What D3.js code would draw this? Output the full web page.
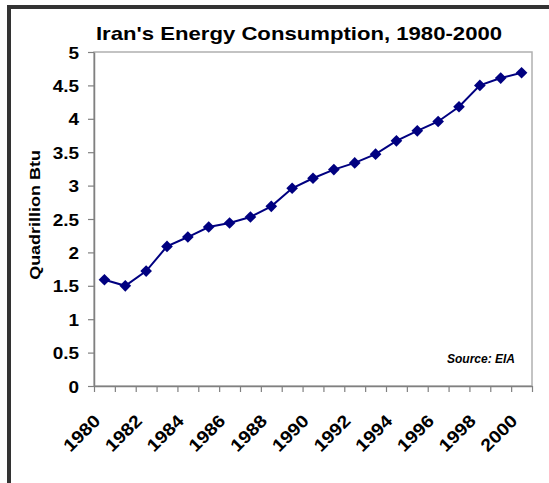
<!DOCTYPE html>
<html>
<head>
<meta charset="utf-8">
<script src="https://cdn.jsdelivr.net/npm/d3@7"></script>
<style>
  html, body { margin: 0; padding: 0; background: #fff; }
  svg { display: block; }
  text { font-family: "Liberation Sans", Arial, sans-serif; font-weight: bold; fill: #000; }
</style>
</head>
<body>
<svg id="chart" width="549" height="483"></svg>
<script>
const years = d3.range(1980, 2001);
const consumption = [1.59, 1.50, 1.72, 2.09, 2.23, 2.38, 2.44, 2.53, 2.69, 2.96, 3.11,
                     3.24, 3.34, 3.47, 3.67, 3.82, 3.96, 4.18, 4.50, 4.61, 4.69];
const yTicks = [0, 0.5, 1, 1.5, 2, 2.5, 3, 3.5, 4, 4.5, 5];
const xLabelYears = [1980, 1982, 1984, 1986, 1988, 1990, 1992, 1994, 1996, 1998, 2000];
const titleText = "Iran's Energy Consumption, 1980-2000";
const yTitle = "Quadrillion Btu";
const sourceText = "Source: EIA";

const svg = d3.select("#chart");
const L = 94, R = 532, T = 52, B = 386;

const x = d3.scaleBand().domain(years).range([L, R]);
const xEdge = d3.scaleLinear().domain([0, years.length]).range([L, R]);
const y = d3.scaleLinear().domain([0, 5]).range([B, T]);

// outer frame (top and left visible)
svg.append("rect").attr("x", 0).attr("y", 0).attr("width", 549).attr("height", 483).attr("fill", "#fff");
svg.append("line").attr("x1", 7).attr("x2", 549).attr("y1", 7).attr("y2", 7)
  .attr("stroke", "#333").attr("stroke-width", 4);
svg.append("line").attr("x1", 9).attr("x2", 9).attr("y1", 5).attr("y2", 483)
  .attr("stroke", "#333").attr("stroke-width", 4);

// plot area border
svg.append("rect").attr("x", L).attr("y", T).attr("width", R - L).attr("height", B - T)
  .attr("fill", "none").attr("stroke", "#b0b0b0").attr("stroke-width", 1.5);

// y axis
const yAxis = svg.append("g").attr("transform", `translate(${L},0)`)
  .call(d3.axisLeft(y).tickValues(yTicks).tickSize(6).tickSizeOuter(0).tickFormat(d3.format("")));
yAxis.select(".domain").attr("stroke", "#808080").attr("stroke-width", 1.5);
yAxis.selectAll(".tick line").attr("stroke", "#808080").attr("stroke-width", 1.2);
yAxis.selectAll(".tick text").each(function() {
  const t = d3.select(this);
  t.attr("x", null).attr("dy", null)
   .attr("text-anchor", "end")
   .attr("transform", "translate(-15,6) scale(1.15,1)")
   .style("font-size", "16.5px").style("font-family", "'Liberation Sans', Arial, sans-serif")
   .style("font-weight", "bold").attr("fill", "#000");
});

// x axis ticks at category edges
const xAxis = svg.append("g").attr("transform", `translate(0,${B})`)
  .call(d3.axisBottom(xEdge).tickValues(d3.range(years.length + 1)).tickSize(6).tickSizeOuter(0).tickFormat(""));
xAxis.select(".domain").attr("stroke", "#808080").attr("stroke-width", 1.5);
xAxis.selectAll(".tick line").attr("stroke", "#808080").attr("stroke-width", 1.2);

// x labels rotated
svg.append("g").selectAll("text").data(xLabelYears).join("text")
  .attr("text-anchor", "end")
  .attr("transform", d => `translate(${x(d) + x.bandwidth() / 2 - 3},${B + 36}) rotate(-45) scale(1.12,1)`)
  .style("font-size", "17.5px")
  .text(d => d);

// line
const line = d3.line().x((d, i) => x(years[i]) + x.bandwidth() / 2).y(d => y(d));
svg.append("path").datum(consumption).attr("d", line)
  .attr("fill", "none").attr("stroke", "#000080").attr("stroke-width", 2);

// markers
svg.append("g").selectAll("path").data(consumption).join("path")
  .attr("d", d3.symbol(d3.symbolSquare, 68))
  .attr("transform", (d, i) => `translate(${x(years[i]) + x.bandwidth() / 2},${y(d)}) rotate(45)`)
  .attr("fill", "#000080");

// title
svg.append("text").attr("text-anchor", "middle")
  .attr("transform", "translate(299,40) scale(1.19,1)")
  .style("font-size", "18.6px").text(titleText);

// y title
svg.append("text").attr("text-anchor", "middle")
  .attr("transform", "translate(40,215) rotate(-90) scale(1.16,1)")
  .style("font-size", "15.5px").text(yTitle);

// source
svg.append("text").attr("text-anchor", "end")
  .attr("x", 515).attr("y", 363)
  .style("font-size", "12px").style("font-style", "italic").text(sourceText);
</script>
</body>
</html>
